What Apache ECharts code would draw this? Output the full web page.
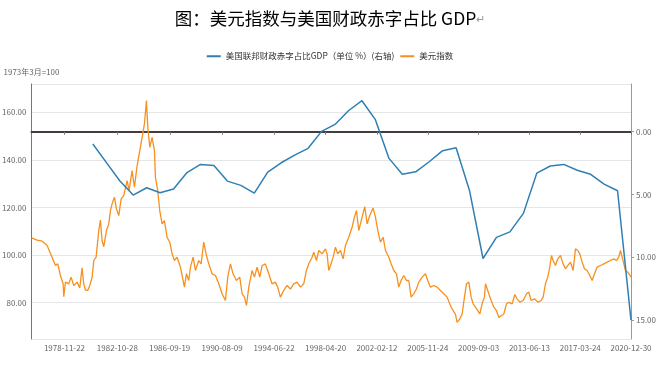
<!DOCTYPE html>
<html>
<head>
<meta charset="utf-8">
<title>美元指数与美国财政赤字占比GDP</title>
<script src="https://cdn.jsdelivr.net/npm/echarts@6/dist/echarts.min.js"></script>
<style>
  html, body { margin: 0; padding: 0; background: #fff; }
  #main { width: 660px; height: 367px; }
</style>
</head>
<body>
<div id="main"></div>
<script>
// 美元指数（1973年3月=100）
var usdDates = [
  '1976-06-10','1976-11-09','1977-03-26','1977-08-08','1977-12-21','1978-03-22','1978-05-24','1978-08-04',
  '1978-10-16','1978-11-03','1978-12-18','1979-03-18','1979-05-21','1979-08-01','1979-10-31','1980-01-11',
  '1980-03-14','1980-04-29','1980-06-13','1980-08-16','1980-10-09','1980-12-12','1981-01-26','1981-03-30',
  '1981-06-10','1981-07-25','1981-09-09','1981-10-24','1982-01-05','1982-03-08','1982-04-23','1982-06-07',
  '1982-08-09','1982-10-03','1982-12-05','1983-02-07','1983-04-19','1983-07-19','1983-09-11','1983-12-01',
  '1984-02-03','1984-04-16','1984-06-28','1984-08-30','1984-11-01','1984-12-25','1985-01-31','1985-03-26',
  '1985-05-28','1985-07-30','1985-08-26','1985-10-28','1985-12-21','1986-02-23','1986-04-27','1986-07-08',
  '1986-09-19','1986-11-21','1987-01-24','1987-04-06','1987-07-05','1987-08-19','1987-10-22','1987-12-15',
  '1988-02-17','1988-04-03','1988-06-14','1988-08-16','1988-11-14','1989-01-17','1989-03-30','1989-06-11',
  '1989-08-13','1989-11-11','1990-02-10','1990-05-12','1990-08-10','1990-11-08','1991-01-11','1991-03-24',
  '1991-06-04','1991-09-03','1991-12-02','1992-02-04','1992-04-08','1992-06-01','1992-08-03','1992-11-02',
  '1993-01-04','1993-03-17','1993-05-29','1993-07-31','1993-10-29','1994-01-27','1994-04-28','1994-07-27',
  '1994-09-28','1994-12-09','1995-03-10','1995-06-09','1995-09-07','1995-12-06','1996-03-06','1996-06-05',
  '1996-09-03','1996-11-15','1997-01-18','1997-04-18','1997-06-02','1997-08-14','1997-10-16','1998-01-14',
  '1998-04-15','1998-05-30','1998-07-14','1998-09-15','1998-11-09','1999-01-12','1999-03-15','1999-05-27',
  '1999-08-08','1999-10-10','2000-01-09','2000-04-08','2000-06-10','2000-08-04','2000-10-06','2001-01-05',
  '2001-03-18','2001-05-21','2001-08-01','2001-10-30','2002-01-02','2002-03-07','2002-05-18','2002-07-29',
  '2002-10-01','2002-12-30','2003-03-03','2003-05-15','2003-07-26','2003-09-27','2003-11-29','2004-02-10',
  '2004-04-23','2004-06-25','2004-08-27','2004-11-07','2005-01-19','2005-03-23','2005-06-22','2005-09-20',
  '2005-11-22','2006-02-03','2006-05-05','2006-08-03','2006-11-01','2007-01-30','2007-05-01','2007-07-30',
  '2007-10-11','2007-12-13','2008-01-27','2008-04-10','2008-06-12','2008-08-14','2008-10-08','2008-12-10',
  '2009-02-12','2009-04-07','2009-06-09','2009-08-11','2009-10-04','2009-12-06','2010-02-08','2010-03-08',
  '2010-04-22','2010-06-06','2010-08-08','2010-10-19','2010-12-31','2011-03-04','2011-05-07','2011-07-18',
  '2011-09-28','2011-12-01','2012-03-01','2012-05-12','2012-07-14','2012-09-25','2012-12-24','2013-03-25',
  '2013-05-27','2013-07-29','2013-10-28','2014-01-26','2014-04-27','2014-06-20','2014-08-22','2014-10-24',
  '2014-12-17','2015-02-01','2015-03-18','2015-05-20','2015-07-23','2015-10-03','2015-12-14','2016-02-16',
  '2016-04-19','2016-07-01','2016-09-11','2016-11-14','2017-01-16','2017-03-11','2017-05-14','2017-07-16',
  '2017-09-27','2017-12-08','2018-02-09','2018-04-14','2018-06-25','2018-09-23','2018-12-22','2019-03-23',
  '2019-06-21','2019-09-20','2019-12-01','2020-02-03','2020-03-19','2020-05-04','2020-06-18','2020-08-02',
  '2020-10-04','2020-12-30'
];
var usdValues = [
  107.2,106.3,105.8,104.0,99.1,95.6,96.3,91.4,
  87.9,82.5,88.6,87.9,90.7,87.2,88.6,86.2,
  94.6,87.9,85.3,85.1,87.2,90.7,97.7,99.1,
  110.3,114.7,106.0,103.5,110.3,113.1,118.7,121.5,
  124.3,119.4,116.6,123.6,125.0,131.3,127.1,135.5,
  128.5,137.6,143.9,149.5,155.1,164.9,153.7,145.3,
  149.5,143.9,132.7,127.1,118.7,113.1,114.5,107.5,
  105.4,100.5,97.7,99.1,94.9,94.2,86.5,92.1,
  89.3,94.9,99.1,93.5,97.7,96.3,105.4,99.8,
  96.3,92.1,91.4,87.9,83.7,80.9,90.7,96.3,
  92.1,89.3,90.7,83.7,82.3,78.8,86.5,93.5,
  90.7,94.9,90.7,95.6,96.3,92.1,87.9,88.6,
  86.5,82.3,85.1,87.2,85.7,87.9,88.6,86.5,
  87.9,93.5,96.3,99.1,101.2,97.7,101.9,100.5,
  102.6,100.5,93.5,96.3,99.1,103.3,100.5,101.9,
  98.4,104.0,107.5,111.7,115.9,118.7,110.3,115.9,
  120.3,113.1,116.6,119.8,115.9,110.3,105.4,107.5,
  101.9,99.1,96.3,93.5,92.1,86.5,89.3,91.4,
  89.3,89.3,82.3,83.7,85.7,88.6,90.7,92.1,
  89.3,86.5,87.2,86.5,85.1,83.7,82.3,78.8,
  76.6,75.2,71.7,73.1,75.2,82.3,87.9,88.6,
  82.3,79.5,78.1,76.6,75.2,79.5,82.3,87.9,
  88.6,83.7,80.9,78.1,76.6,73.8,74.5,75.2,
  79.5,80.1,79.5,83.4,81.6,80.2,80.9,83.7,
  84.4,80.9,81.6,80.2,80.9,82.3,87.9,90.7,
  94.9,99.8,97.7,95.6,98.4,99.8,96.3,94.2,
  95.6,97.0,93.5,102.6,101.9,100.5,97.0,94.2,
  93.5,91.4,89.3,92.1,94.9,95.6,96.3,97.0,
  97.7,98.4,97.7,99.1,101.9,99.1,96.3,93.5,
  92.8,90.7
];

// 美国联邦财政赤字占比GDP（%），年末
var deficitDates = [
  '1980-12-31','1981-12-31','1982-12-31','1983-12-31','1984-12-31','1985-12-31','1986-12-31',
  '1987-12-31','1988-12-31','1989-12-31','1990-12-31','1991-12-31','1992-12-31','1993-12-31',
  '1994-12-31','1995-12-31','1996-12-31','1997-12-31','1998-12-31','1999-12-31','2000-12-31',
  '2001-12-31','2002-12-31','2003-12-31','2004-12-31','2005-12-31','2006-12-31','2007-12-31',
  '2008-12-31','2009-12-31','2010-12-31','2011-12-31','2012-12-31','2013-12-31','2014-12-31',
  '2015-12-31','2016-12-31','2017-12-31','2018-12-31','2019-12-31','2020-12-30'
];
var deficitValues = [
  0.98, 2.44, 3.90, 5.04, 4.46, 4.86, 4.56,
  3.25, 2.60, 2.68, 3.93, 4.27, 4.88, 3.21,
  2.47, 1.86, 1.32, -0.03, -0.58, -1.67, -2.47,
  -0.96, 2.10, 3.39, 3.19, 2.39, 1.51, 1.27,
  4.70, 10.09, 8.41, 7.97, 6.50, 3.29, 2.73,
  2.60, 3.07, 3.39, 4.17, 4.70, 15.00
];

// 横轴标签日期
var xLabelDates = [
  '1978-11-22','1982-10-28','1986-09-19','1990-08-09','1994-06-22','1998-04-20',
  '2002-02-12','2005-11-24','2009-09-03','2013-06-13','2017-03-24','2020-12-30'
];

var xMin = '1976-06-10';
var xMax = '2020-12-30';

function ts(s) {
  return echarts.number.parseDate(s).getTime();
}
function pad(n) {
  return n < 10 ? '0' + n : '' + n;
}
function fmtDate(v) {
  var d = new Date(v);
  return d.getFullYear() + '-' + pad(d.getMonth() + 1) + '-' + pad(d.getDate());
}

var labelTs = xLabelDates.map(ts);
var usdData = usdDates.map(function (d, i) { return [ts(d), usdValues[i]]; });
var deficitData = deficitDates.map(function (d, i) { return [ts(d), deficitValues[i]]; });

var font = 'Noto Sans CJK SC';
var blue = '#2f7fb3';
var orange = '#f7901e';

var myChart = echarts.init(document.getElementById('main'));

var option = {
  backgroundColor: '#fff',
  animation: false,
  title: {
    text: '图：美元指数与美国财政赤字占比 GDP{p|↵}',
    left: 'center',
    top: 5,
    textStyle: {
      fontFamily: font,
      fontSize: 17.5,
      fontWeight: 'normal',
      color: '#000',
      rich: {
        p: { fontSize: 11, color: '#999', fontFamily: font }
      }
    }
  },
  legend: {
    top: 47,
    left: 'center',
    icon: 'rect',
    itemWidth: 14,
    itemHeight: 2,
    itemGap: 6,
    textStyle: { fontFamily: font, fontSize: 8.5, color: '#333' },
    data: ['美国联邦财政赤字占比GDP（单位 %）(右轴)', '美元指数']
  },
  grid: {
    left: 31.5,
    right: 29,
    top: 84,
    bottom: 28,
    containLabel: false,
    outerBoundsMode: 'none'
  },
  xAxis: [
    {
      type: 'value',
      position: 'bottom',
      min: ts(xMin),
      max: ts(xMax),
      axisLine: { show: false },
      axisTick: { show: false },
      splitLine: { show: false },
      axisLabel: {
        customValues: labelTs,
        margin: 5,
        fontFamily: font,
        fontSize: 8,
        color: '#666',
        formatter: fmtDate
      }
    },
    {
      type: 'value',
      position: 'bottom',
      min: ts(xMin),
      max: ts(xMax),
      axisLine: {
        show: true,
        onZero: true,
        onZeroAxisIndex: 1,
        lineStyle: { color: '#463c3c', width: 2 }
      },
      axisTick: {
        show: true,
        customValues: labelTs,
        length: 3,
        lineStyle: { color: '#777' }
      },
      axisLabel: { show: false },
      splitLine: { show: false }
    }
  ],
  yAxis: [
    {
      type: 'value',
      position: 'left',
      min: 64.7,
      max: 171.9,
      name: '1973年3月=100',
      nameLocation: 'end',
      nameGap: 8,
      nameTextStyle: { fontFamily: font, fontSize: 8, color: '#666', align: 'center' },
      axisLine: { show: true, lineStyle: { color: '#777' } },
      axisTick: { show: false },
      axisLabel: {
        showMinLabel: false,
        showMaxLabel: false,
        margin: 5,
        fontFamily: font,
        fontSize: 8,
        color: '#666',
        formatter: function (v) { return v.toFixed(2); }
      },
      splitLine: { show: true, lineStyle: { color: '#e6e6e6', width: 1 } }
    },
    {
      type: 'value',
      position: 'right',
      inverse: true,
      min: -3.8,
      max: 16.5,
      axisLine: { show: true, lineStyle: { color: '#999' } },
      axisTick: { show: true, length: 3, lineStyle: { color: '#999' } },
      axisLabel: {
        showMinLabel: false,
        showMaxLabel: false,
        margin: 5,
        fontFamily: font,
        fontSize: 8,
        color: '#666',
        formatter: function (v) { return v.toFixed(2); }
      },
      splitLine: { show: false }
    }
  ],
  series: [
    {
      name: '美国联邦财政赤字占比GDP（单位 %）(右轴)',
      type: 'line',
      xAxisIndex: 0,
      yAxisIndex: 1,
      showSymbol: false,
      symbol: 'none',
      lineStyle: { color: blue, width: 1.5 },
      itemStyle: { color: blue },
      data: deficitData,
      z: 3
    },
    {
      name: '美元指数',
      type: 'line',
      xAxisIndex: 0,
      yAxisIndex: 0,
      showSymbol: false,
      symbol: 'none',
      lineStyle: { color: orange, width: 1.3 },
      itemStyle: { color: orange },
      data: usdData,
      z: 2
    }
  ]
};

myChart.setOption(option);
</script>
</body>
</html>
